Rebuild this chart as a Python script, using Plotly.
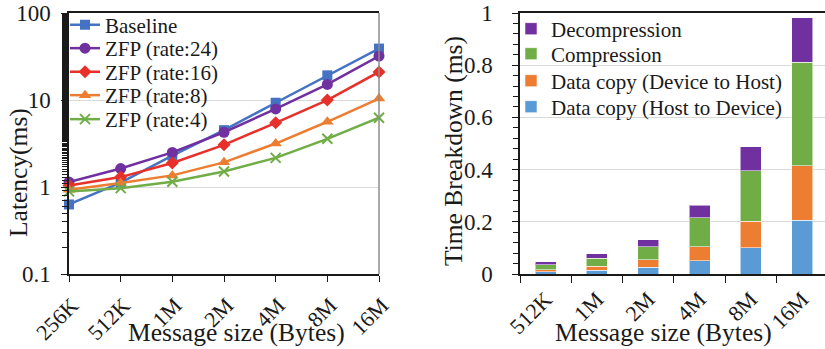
import plotly.graph_objects as go

# ---- latency vs. message size (log scale) ----
sizes_lat = ["256K", "512K", "1M", "2M", "4M", "8M", "16M"]
baseline = [0.63, 1.12, 2.3, 4.5, 9.3, 19.2, 39.0]
zfp_24 = [1.14, 1.63, 2.5, 4.26, 7.9, 15.1, 32.0]
zfp_16 = [1.04, 1.30, 1.89, 3.05, 5.47, 9.97, 21.0]
zfp_8 = [0.93, 1.11, 1.36, 1.92, 3.16, 5.62, 10.4]
zfp_4 = [0.89, 0.97, 1.15, 1.51, 2.16, 3.58, 6.25]

# ---- time breakdown (stacked) ----
sizes_bd = ["512K", "1M", "2M", "4M", "8M", "16M"]
copy_h2d = [0.008, 0.015, 0.025, 0.050, 0.100, 0.206]
copy_d2h = [0.008, 0.014, 0.029, 0.054, 0.102, 0.209]
compression = [0.019, 0.031, 0.051, 0.112, 0.193, 0.396]
decompression = [0.012, 0.017, 0.026, 0.048, 0.093, 0.171]

FONT = "Liberation Serif"
INK = "#1a1a1a"
GRID = "#d9d9d9"
W, H = 825, 349

fig = go.Figure()
legends = {}

def legend_slot(idx, x_px, y_px):
    """One legend box per entry so each row sits at its own height."""
    key = "legend" if idx == 1 else f"legend{idx}"
    legends[key] = dict(
        x=x_px / W, y=1 - y_px / H, xanchor="left", yanchor="middle",
        bgcolor="rgba(0,0,0,0)", borderwidth=0, itemwidth=30,
        font=dict(family=FONT, size=21, color=INK),
    )
    return key

line_series = [
    ("Baseline", baseline, "#4472c4", "square", 10),
    ("ZFP (rate:24)", zfp_24, "#7030a0", "circle", 11),
    ("ZFP (rate:16)", zfp_16, "#e8302a", "diamond", 10),
    ("ZFP (rate:8)", zfp_8, "#ed7d31", "triangle-up", 11),
    ("ZFP (rate:4)", zfp_4, "#70ad47", "x-thin-open", 10),
]
left_rows = [25, 48.5, 72, 95.5, 119.5]
for i, (name, vals, color, sym, msize) in enumerate(line_series):
    key = legend_slot(i + 1, 65, left_rows[i])
    fig.add_trace(go.Scatter(
        x=sizes_lat, y=vals, name=name, mode="lines+markers",
        line=dict(color=color, width=2.5),
        marker=dict(symbol=sym, size=msize, color=color,
                    line=dict(color=color, width=2 if "thin" in sym else 0)),
        cliponaxis=False, xaxis="x", yaxis="y", legend=key,
    ))

bar_series = [
    ("Data copy (Host to Device)", copy_h2d, "#5b9bd5"),
    ("Data copy (Device to Host)", copy_d2h, "#ed7d31"),
    ("Compression", compression, "#70ad47"),
    ("Decompression", decompression, "#7030a0"),
]
right_rows = [107, 81, 54, 29]
for i, (name, vals, color) in enumerate(bar_series):
    key = legend_slot(i + 6, 511, right_rows[i])
    fig.add_trace(go.Bar(
        x=sizes_bd, y=vals, name=name,
        marker=dict(color=color, line=dict(color="rgba(255,255,255,0.55)", width=1)),
        xaxis="x2", yaxis="y2", legend=key,
    ))

left_dom = [69 / W, 379 / W]
right_dom = [520 / W, 1.0]
plot_top, plot_bot = 13, 274
ydom = [1 - plot_bot / H, 1 - plot_top / H]

ytickfont = dict(family=FONT, size=23, color=INK)
xtickfont = dict(family=FONT, size=22, color=INK)
titlefont = dict(family=FONT, size=25.5, color=INK)

fig.update_layout(
    width=W, height=H,
    margin=dict(l=0, r=0, t=0, b=0, autoexpand=False),
    paper_bgcolor="white", plot_bgcolor="white",
    font=dict(family=FONT, color=INK),
    barmode="stack", bargap=0.59,
    showlegend=True,
    xaxis=dict(
        domain=left_dom, anchor="y", type="category", range=[0, 6],
        showline=True, linecolor=INK, linewidth=1.5, mirror=True,
        ticks="outside", ticklen=6, tickcolor=INK, tickangle=-45,
        tickfont=xtickfont, ticklabelstandoff=2, ticklabelshift=3,
        showgrid=False, zeroline=False, automargin=False,
    ),
    yaxis=dict(
        domain=ydom, anchor="x", type="log", range=[-1, 2],
        tickvals=[0.1, 1, 10, 100], ticktext=["0.1", "1", "10", "100"],
        showline=True, linecolor=INK, linewidth=1.5,
        ticks="outside", ticklen=6, tickcolor=INK, tickwidth=1,
        tickfont=ytickfont, ticklabelstandoff=6,
        minor=dict(ticks="outside", ticklen=5, tickcolor=INK, tickwidth=1, showgrid=False),
        showgrid=True, gridcolor=GRID, gridwidth=1, zeroline=False, automargin=False,
    ),
    xaxis2=dict(
        domain=right_dom, anchor="y2", type="category", range=[-0.5, 5.445],
        showline=True, linecolor=INK, linewidth=1.5, mirror=True,
        ticks="outside", ticklen=7, tickcolor=INK, tickson="boundaries",
        tickangle=-45, tickfont=xtickfont, ticklabelstandoff=2, ticklabelshift=0,
        showgrid=False, zeroline=False, automargin=False,
    ),
    yaxis2=dict(
        domain=ydom, anchor="x2", range=[0, 1], dtick=0.2,
        showline=True, linecolor=INK, linewidth=1.5,
        ticks="outside", ticklen=6, tickcolor=INK, tickwidth=1,
        tickfont=ytickfont, ticklabelstandoff=15,
        minor=dict(dtick=0.04, ticks="outside", ticklen=5, tickcolor=INK, tickwidth=1,
                   showgrid=False),
        showgrid=True, gridcolor=GRID, gridwidth=1, zeroline=False, automargin=False,
    ),
    shapes=[
        dict(type="line", xref="x domain", yref="y domain", x0=1, x1=1, y0=0, y1=1,
             line=dict(color="#8c8c8c", width=1.5)),
    ],
    annotations=[
        dict(text="Message size (Bytes)", xref="paper", yref="paper",
             x=236 / W, y=1 - 332 / H, xanchor="center", yanchor="middle",
             showarrow=False, font=titlefont),
        dict(text="Message size (Bytes)", xref="paper", yref="paper",
             x=663 / W, y=1 - 332 / H, xanchor="center", yanchor="middle",
             showarrow=False, font=titlefont),
        dict(text="Latency(ms)", xref="paper", yref="paper",
             x=18 / W, y=1 - 173 / H, xanchor="center", yanchor="middle",
             showarrow=False, textangle=-90, font=titlefont),
        dict(text="Time Breakdown (ms)", xref="paper", yref="paper",
             x=453 / W, y=1 - 151 / H, xanchor="center", yanchor="middle",
             showarrow=False, textangle=-90, font=titlefont),
    ],
)
fig.update_layout(**legends)

fig.write_html("out.html")
